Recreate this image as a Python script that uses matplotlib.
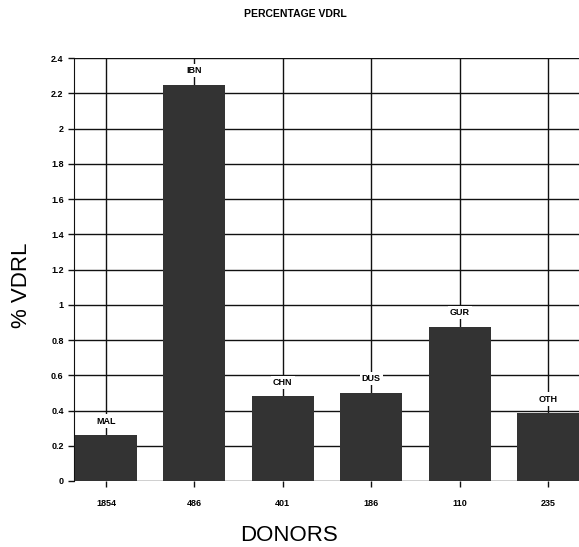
import matplotlib
matplotlib.use("Agg")
import matplotlib.pyplot as plt
import numpy as np

plt.rcParams["font.family"] = ["Liberation Sans", "DejaVu Sans"]

groups = ["MAL", "IBN", "CHN", "DUS", "GUR", "OTH"]
donors = ["1854", "486", "401", "186", "110", "235"]
pct_vdrl = [0.26, 2.25, 0.48, 0.50, 0.875, 0.385]
yticks = [0, 0.2, 0.4, 0.6, 0.8, 1, 1.2, 1.4, 1.6, 1.8, 2, 2.2, 2.4]
ytick_labels = ["0", "0.2", "0.4", "0.6", "0.8", "1", "1.2", "1.4", "1.6", "1.8", "2", "2.2", "2.4"]

fig = plt.figure(figsize=(5.79, 5.47), dpi=100)
ax = fig.add_axes([0.128, 0.1207, 0.872, 0.773])

x = np.arange(len(groups))
ax.set_axisbelow(True)
ax.grid(True, color="#111111", linewidth=1.0)
ax.bar(x, pct_vdrl, width=0.7, color="#333333", zorder=3)

for xi, v, g in zip(x, pct_vdrl, groups):
    ax.text(xi, v + 0.08, g, ha="center", va="center", fontsize=6.5,
            fontweight="bold", zorder=4,
            bbox=dict(facecolor="white", edgecolor="none", pad=1.5))

ax.set_xlim(-0.36, 5.35)
ax.set_ylim(0, 2.4)
ax.set_yticks(yticks)
ax.set_yticklabels(ytick_labels, fontsize=6.5, fontweight="bold")
ax.set_xticks(x)
ax.set_xticklabels(donors, fontsize=6.5, fontweight="bold")
ax.tick_params(axis="both", direction="out", length=4, width=1, color="#111111")
ax.tick_params(axis="x", pad=9)

for s in ["top", "right", "bottom"]:
    ax.spines[s].set_visible(False)
ax.spines["left"].set_color("#111111")

ax.set_ylabel("% VDRL", fontsize=16, va="center", ha="center")
ax.yaxis.set_label_coords(-0.105, 0.463)
ax.set_xlabel("DONORS", fontsize=16, va="center", ha="center")
ax.xaxis.set_label_coords((289 - 74) / 505, -0.130)
fig.text(0.511, 0.975, "PERCENTAGE VDRL", ha="center", va="center",
         fontsize=7.5, fontweight="bold")

fig.savefig("out.png", dpi=100)
